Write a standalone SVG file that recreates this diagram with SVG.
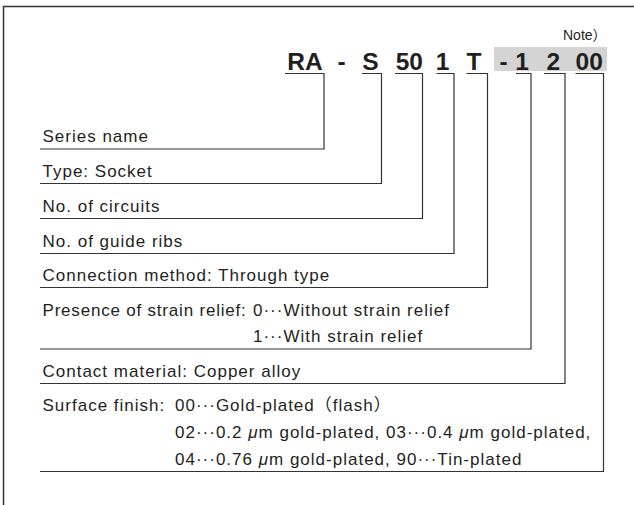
<svg xmlns="http://www.w3.org/2000/svg" width="634" height="505" viewBox="0 0 634 505">
<style>
.t{font-family:"Liberation Sans",Arial,sans-serif;font-size:17px;fill:#231f20;letter-spacing:1px}
.c{font-family:"Liberation Sans",Arial,sans-serif;font-size:24.5px;font-weight:bold;fill:#231f20;text-anchor:middle}
.n{font-family:"Liberation Sans","Noto Sans CJK JP",sans-serif;font-size:14px;fill:#231f20}
.cjk{font-family:"Noto Sans CJK JP",sans-serif}
.mu{font-style:italic}
.ln{fill:none;stroke:#333;stroke-width:1.2}
</style>
<rect x="3.5" y="6.5" width="700" height="600" fill="#fff" stroke="#333" stroke-width="1.5"/>
<g id="code">
<rect x="494" y="47" width="113" height="24" fill="#d4d4d4"/>
<text class="n" x="563" y="40">Note<tspan class="cjk">）</tspan></text>
<text class="c" x="305" y="70">RA</text>
<text class="c" x="341.5" y="70">-</text>
<text class="c" x="370.5" y="70">S</text>
<text class="c" x="409.3" y="70">50</text>
<text class="c" x="442.5" y="70">1</text>
<text class="c" x="474" y="70">T</text>
<text class="c" x="503.5" y="70">-</text>
<text class="c" x="522" y="70">1</text>
<text class="c" x="553.3" y="70">2</text>
<text class="c" x="589.2" y="70">00</text>
</g>
<g id="connectors" class="ln">
<polyline points="285,73.5 324,73.5 324,149 40,149"/>
<polyline points="362,73.5 381.5,73.5 381.5,183.5 40,183.5"/>
<polyline points="395,73.5 422.5,73.5 422.5,218.5 40,218.5"/>
<polyline points="436.5,73.5 454,73.5 454,253.5 40,253.5"/>
<polyline points="466.5,73.5 487.5,73.5 487.5,287.5 40,287.5"/>
<polyline points="516,73.5 531,73.5 531,349 40,349"/>
<polyline points="544,73.5 565,73.5 565,383.5 40,383.5"/>
<polyline points="575.5,73.5 603.5,73.5 603.5,471.5 40,471.5"/>
</g>
<g id="series"><text class="t" x="42.5" y="141.5">Series name</text></g>
<g id="type"><text class="t" x="42.5" y="176.5">Type: Socket</text></g>
<g id="circuits"><text class="t" x="42.5" y="211.5">No. of circuits</text></g>
<g id="ribs"><text class="t" x="42.5" y="246.5">No. of guide ribs</text></g>
<g id="connection"><text class="t" x="42.5" y="280.5">Connection method: Through type</text></g>
<g id="strain">
<text class="t" x="42.5" y="316"><tspan style="letter-spacing:0.8px">Presence of strain relief:</tspan><tspan x="253">0···Without strain relief</tspan></text>
<text class="t" x="253" y="342">1···With strain relief</text>
</g>
<g id="contact"><text class="t" x="42.5" y="376.5">Contact material: Copper alloy</text></g>
<g id="surface">
<text class="t" x="42.5" y="411">Surface finish: <tspan x="175">00···Gold-plated<tspan class="cjk">（</tspan>flash<tspan class="cjk">）</tspan></tspan></text>
<text class="t" x="175" y="438">02···0.2 <tspan class="mu">μ</tspan>m gold-plated, 03···0.4 <tspan class="mu">μ</tspan>m gold-plated,</text>
<text class="t" x="175" y="465">04···0.76 <tspan class="mu">μ</tspan>m gold-plated, 90···Tin-plated</text>
</g>
</svg>
